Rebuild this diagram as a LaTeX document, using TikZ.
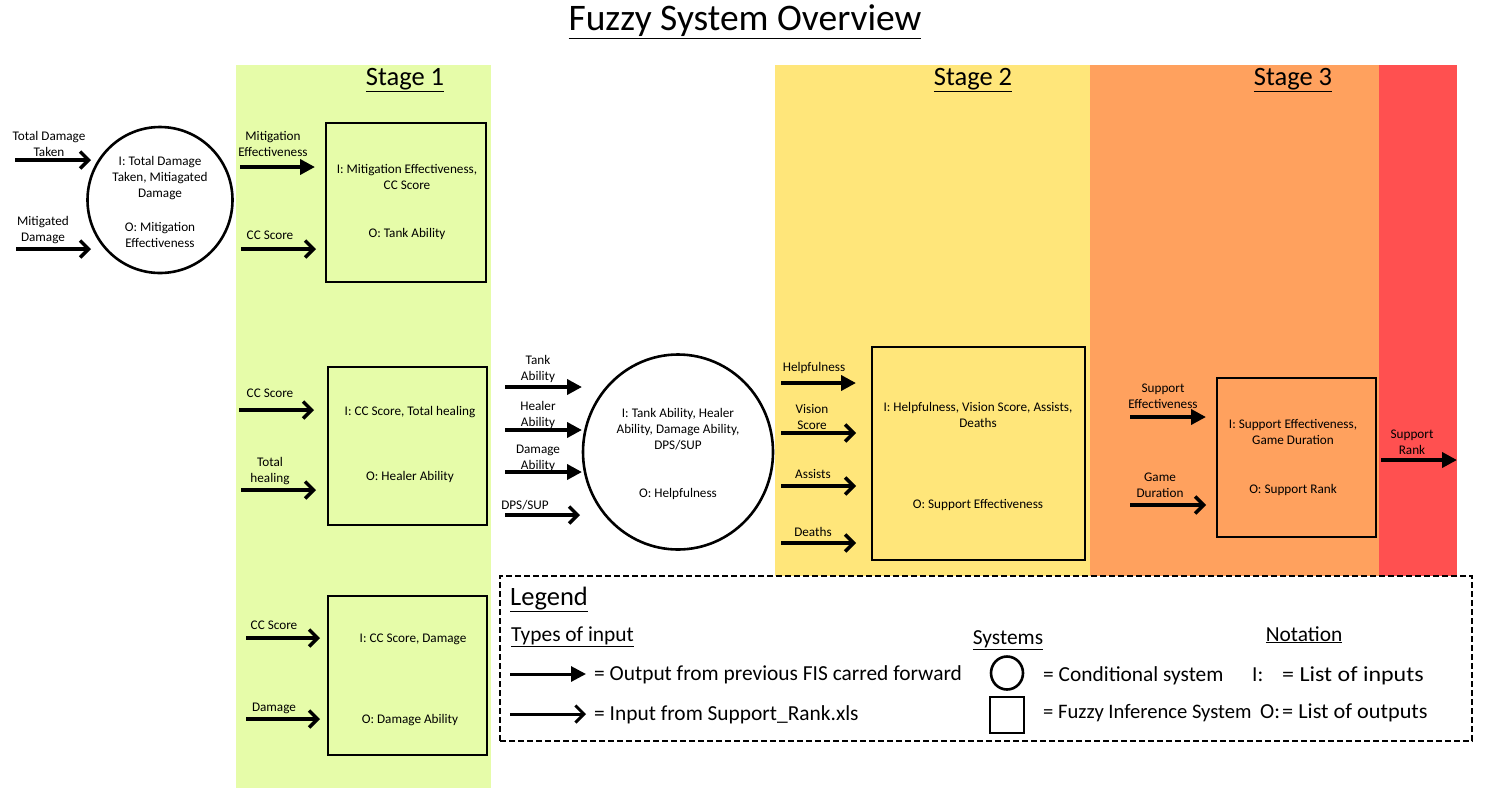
\documentclass[tikz,border=0pt]{standalone}
\usepackage{fontspec}
\setmainfont{Carlito}
\usetikzlibrary{arrows.meta,shapes.geometric}
\definecolor{sgreen}{HTML}{E6FCA9}
\definecolor{syellow}{HTML}{FFE67A}
\definecolor{sorange}{HTML}{FFA15E}
\definecolor{sred}{HTML}{FF5050}
\begin{document}
\begin{tikzpicture}[x=1pt,y=-1pt,
  lbl/.style={font=\fontsize{13.2}{16.2}\selectfont, align=center, inner sep=0pt},
  hdr/.style={font=\fontsize{26.5}{30}\selectfont, inner sep=0pt},
  leg/.style={font=\fontsize{21.4}{25}\selectfont, inner sep=0pt, anchor=base west},
  fwd/.style={line width=3.8pt, -{Triangle[length=15pt,width=15pt]}},
  inp/.style={line width=3.4pt, -{Straight Barb[length=8.5pt,width=17pt]}},
  fis/.style={draw, line width=2.6pt, inner sep=0pt},
  cond/.style={draw, ellipse, line width=2.6pt, inner sep=0pt},
]
\useasboundingbox (0,0) rectangle (1487,788);
% stage bands
\fill[sgreen] (236,65) rectangle (491,788);
\fill[syellow] (775,65) rectangle (1090,576);
\fill[sorange] (1090,65) rectangle (1379,576);
\fill[sred] (1379,65) rectangle (1457,576);

% title and headers
\node[font=\fontsize{37.5}{42}\selectfont, inner sep=0pt] (title) at (745,22) {\underline{Fuzzy System Overview}};
\node[hdr] (st1) at (405,80) {\underline{Stage 1}};
\node[hdr] (st2) at (973,80) {\underline{Stage 2}};
\node[hdr] (st3) at (1293,80) {\underline{Stage 3}};

% conditional system 1
\node[cond, minimum width=145pt, minimum height=146pt] (c1) at (160,200) {};
\node[lbl] (c1i) at (160,178) {I: Total Damage\\Taken, Mitiagated\\Damage};
\node[lbl] (c1o) at (160,235) {O: Mitigation\\Effectiveness};
\node[lbl] (l1) at (49,144) {Total Damage\\Taken};
\coordinate (a1s) at (15,160); \coordinate (a1e) at (91,160);
\draw[inp] (a1s) -- (a1e);
\node[lbl] (l2) at (43,230) {Mitigated\\Damage};
\coordinate (a2s) at (16,249); \coordinate (a2e) at (91,249);
\draw[inp] (a2s) -- (a2e);

% stage 1 box 1
\node[fis, minimum width=160pt, minimum height=159pt] (b1) at (406,202.5) {};
\node[lbl] (b1i) at (407,177) {I: Mitigation Effectiveness,\\CC Score};
\node[lbl] (b1o) at (407,234) {O: Tank Ability};
\node[lbl] (l3) at (273,144) {Mitigation\\Effectiveness};
\coordinate (a3s) at (240,167); \coordinate (a3e) at (315,167);
\draw[fwd] (a3s) -- (a3e);
\node[lbl] (l4) at (270,235) {CC Score};
\coordinate (a4s) at (241,249); \coordinate (a4e) at (316,249);
\draw[inp] (a4s) -- (a4e);

% stage 1 box 2
\node[fis, minimum width=159pt, minimum height=158pt] (b2) at (407.5,446) {};
\node[lbl] (b2i) at (410,412) {I: CC Score, Total healing};
\node[lbl] (b2o) at (410,477) {O: Healer Ability};
\node[lbl] (l5) at (270,393) {CC Score};
\coordinate (a5s) at (239,410); \coordinate (a5e) at (314,410);
\draw[inp] (a5s) -- (a5e);
\node[lbl] (l6) at (270,471) {Total\\healing};
\coordinate (a6s) at (241,490); \coordinate (a6e) at (316,490);
\draw[inp] (a6s) -- (a6e);

% stage 1 box 3
\node[fis, minimum width=159pt, minimum height=159pt] (b3) at (407.5,675.5) {};
\node[lbl] (b3i) at (413,639) {I: CC Score, Damage};
\node[lbl] (b3o) at (410,720) {O: Damage Ability};
\node[lbl] (l7) at (274,625) {CC Score};
\coordinate (a7s) at (246,638); \coordinate (a7e) at (320,638);
\draw[inp] (a7s) -- (a7e);
\node[lbl] (l8) at (274,708) {Damage};
\coordinate (a8s) at (246,719); \coordinate (a8e) at (320,719);
\draw[inp] (a8s) -- (a8e);

% conditional system 2
\node[cond, minimum width=190pt, minimum height=195pt] (c2) at (678,452) {};
\node[lbl] (c2i) at (678,429) {I: Tank Ability, Healer\\Ability, Damage Ability,\\DPS/SUP};
\node[lbl] (c2o) at (678,494) {O: Helpfulness};
\node[lbl] (l9) at (538,369) {Tank\\Ability};
\coordinate (a9s) at (505,387); \coordinate (a9e) at (582,387);
\draw[fwd] (a9s) -- (a9e);
\node[lbl] (l10) at (538,415) {Healer\\Ability};
\coordinate (a10s) at (505,430); \coordinate (a10e) at (582,430);
\draw[fwd] (a10s) -- (a10e);
\node[lbl] (l11) at (538,458) {Damage\\Ability};
\coordinate (a11s) at (505,472); \coordinate (a11e) at (582,472);
\draw[fwd] (a11s) -- (a11e);
\node[lbl] (l12) at (525,505) {DPS/SUP};
\coordinate (a12s) at (505,515); \coordinate (a12e) at (580,515);
\draw[inp] (a12s) -- (a12e);

% stage 2 box
\node[fis, minimum width=213pt, minimum height=213pt] (b4) at (978.5,453.5) {};
\node[lbl] (b4i) at (978,415) {I: Helpfulness, Vision Score, Assists,\\Deaths};
\node[lbl] (b4o) at (978,505) {O: Support Effectiveness};
\node[lbl] (l13) at (814,368) {Helpfulness};
\coordinate (a13s) at (781,383); \coordinate (a13e) at (856,383);
\draw[fwd] (a13s) -- (a13e);
\node[lbl] (l14) at (812,417) {Vision\\Score};
\coordinate (a14s) at (781,433); \coordinate (a14e) at (856,433);
\draw[inp] (a14s) -- (a14e);
\node[lbl] (l15) at (813,474) {Assists};
\coordinate (a15s) at (781,486); \coordinate (a15e) at (856,486);
\draw[inp] (a15s) -- (a15e);
\node[lbl] (l16) at (813,532) {Deaths};
\coordinate (a16s) at (781,543); \coordinate (a16e) at (856,543);
\draw[inp] (a16s) -- (a16e);

% stage 3 box
\node[fis, minimum width=159pt, minimum height=159pt] (b5) at (1296.5,457.5) {};
\node[lbl] (b5i) at (1293,432) {I: Support Effectiveness,\\Game Duration};
\node[lbl] (b5o) at (1293,490) {O: Support Rank};
\node[lbl] (l17) at (1163,396) {Support\\Effectiveness};
\coordinate (a17s) at (1130,417); \coordinate (a17e) at (1206,417);
\draw[fwd] (a17s) -- (a17e);
\node[lbl] (l18) at (1160,485) {Game\\Duration};
\coordinate (a18s) at (1130,505); \coordinate (a18e) at (1206,505);
\draw[inp] (a18s) -- (a18e);
\node[lbl] (l19) at (1412,442) {Support\\Rank};
\coordinate (a19s) at (1381,460); \coordinate (a19e) at (1457,460);
\draw[fwd] (a19s) -- (a19e);

% legend
\node[draw, dashed, dash pattern=on 6pt off 3pt, line width=2.2pt, minimum width=972pt, minimum height=165pt, inner sep=0pt] (lgbox) at (986,658.5) {};
\node[leg, font=\fontsize{26.5}{30}\selectfont] (lgt) at (510,605) {\underline{Legend}};
\node[leg] (lgti) at (511,641) {\underline{Types of input}};
\coordinate (la1s) at (510,674); \coordinate (la1e) at (586,674);
\draw[fwd, line width=3pt] (la1s) -- (la1e);
\node[leg] (lgt1) at (594,680) {= Output from previous FIS carred forward};
\coordinate (la2s) at (510,714); \coordinate (la2e) at (586,714);
\draw[inp, line width=3pt] (la2s) -- (la2e);
\node[leg] (lgt2) at (594,720) {= Input from Support\_Rank.xls};
\node[leg, anchor=base] (lgsy) at (1008,644) {\underline{Systems}};
\node[cond, minimum width=32pt, minimum height=33pt] (lgc) at (1007,673) {};
\node[fis, minimum width=34pt, minimum height=36pt] (lgs) at (1007,715) {};
\node[leg] (lgt3) at (1043,681) {= Conditional system};
\node[leg, font=\fontsize{20.6}{24}\selectfont] (lgt4) at (1043,718) {= Fuzzy Inference System};
\node[leg, anchor=base] (lgno) at (1304,641) {\underline{Notation}};
\node[leg] (lgn1) at (1252,681) {I:};
\node[leg] (lgn2) at (1282,681) {\scalebox{1.12}[1]{= List of inputs}};
\node[leg] (lgn3) at (1260,718) {O:};
\node[leg] (lgn4) at (1282,718) {\scalebox{1.04}[1]{= List of outputs}};
\end{tikzpicture}
\end{document}
